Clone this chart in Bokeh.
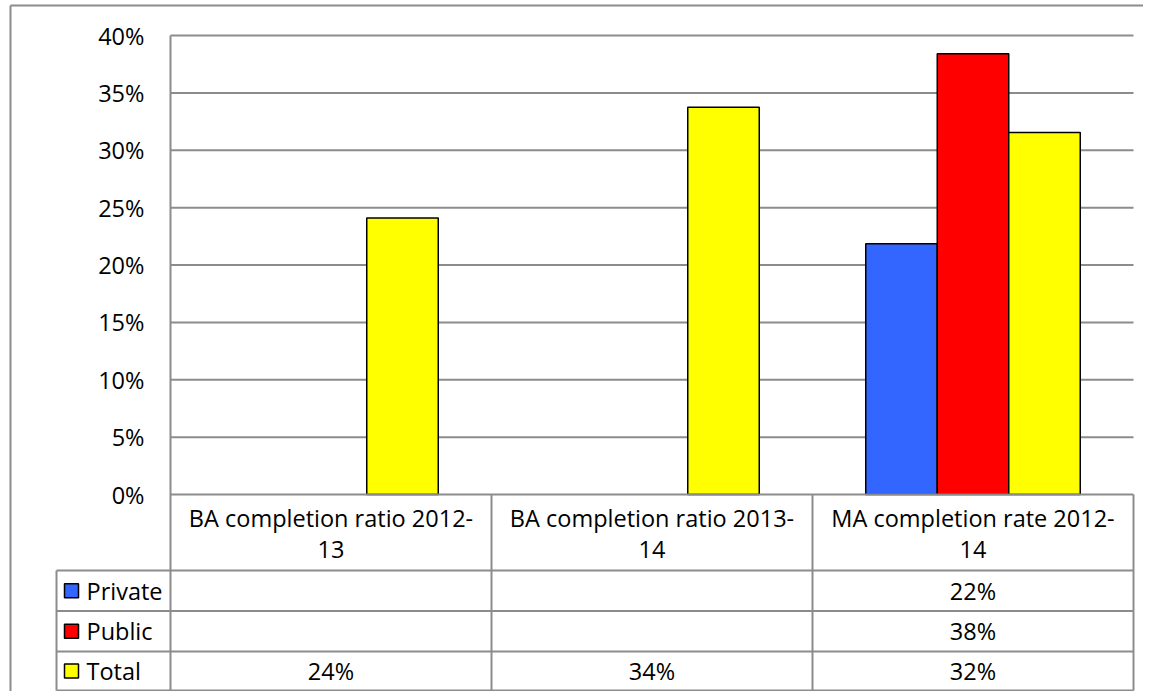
import numpy as np
from bokeh.plotting import figure
from bokeh.models import Range1d, LinearAxis, FixedTicker, NumeralTickFormatter
from bokeh.core.properties import value
from bokeh.embed import file_html
from bokeh.resources import INLINE

# ---------------- data ----------------
categories = ["BA completion ratio 2012-13", "BA completion ratio 2013-14", "MA completion rate 2012-14"]
series_names = ["Private", "Public", "Total"]
private = [None, None, 0.2185]
public = [None, None, 0.384]
total = [0.241, 0.3375, 0.3155]
y_ticks = [0.0, 0.05, 0.10, 0.15, 0.20, 0.25, 0.30, 0.35, 0.40]
series_colors = ["#3366FF", "#FF0000", "#FFFF00"]

# ---------------- layout (px, relative to the picture) ----------------
W, H = 1143, 691
ORIGIN = 0        # canvas origin as seen in the picture
X0 = 170.0        # x of category axis start
CAT_PX = 321.0    # width of one category
Y0 = 494.0        # y of 0%
UNIT_PX = 1147.5  # px per 1.0 on value axis
FONT = value("Open Sans")
FS = "23.5px"
GRID = "#8c8c8c"


def xd(sx):
    return (sx - X0) / CAT_PX


def yd(sy):
    return (Y0 - sy) / UNIT_PX


p = figure(width=W, height=H, output_backend="svg", toolbar_location=None,
           x_range=Range1d(xd(ORIGIN), xd(ORIGIN + W)),
           y_range=Range1d(yd(ORIGIN + H), yd(ORIGIN)),
           x_axis_type=None, y_axis_type=None, min_border=0)
p.min_border_left = p.min_border_right = p.min_border_top = p.min_border_bottom = 0
p.outline_line_color = None
p.background_fill_color = "white"

n_cat = len(categories)
ymax = y_ticks[-1]

# value axis drawn at the start of the categories
yaxis = LinearAxis(fixed_location=0, ticker=FixedTicker(ticks=y_ticks),
                   formatter=NumeralTickFormatter(format="0%"),
                   axis_line_color=None, major_tick_line_color=None,
                   minor_tick_line_color=None, major_tick_out=0, major_tick_in=0,
                   minor_tick_out=0, minor_tick_in=0, major_label_standoff=26,
                   major_label_text_font="Open Sans", major_label_text_font_size=FS,
                   major_label_text_color="black")
p.add_layout(yaxis, "left")

# gridlines
gl = [t for t in y_ticks if t > 0]
p.multi_line(xs=[[0, n_cat] for _ in gl], ys=[[t, t] for t in gl], line_color=GRID, line_width=2)

# bars
n = len(series_names)
bar_w = 71.5 / CAT_PX
for i, (vals, col) in enumerate(zip([private, public, total], series_colors)):
    xs = [c + 0.5 + (i - (n - 1) / 2) * bar_w for c, v in enumerate(vals) if v is not None]
    tops = [v for v in vals if v is not None]
    p.vbar(x=xs, top=tops, bottom=0, width=bar_w, fill_color=col,
           line_color="black", line_width=1.5)

# data table
row_px = [570.0, 610.5, 651.0, 690.0]
leg_left = 56.0
tb = yd(row_px[-1])
p.segment(x0=[0], y0=[0], x1=[n_cat], y1=[0], line_color=GRID, line_width=2)
p.segment(x0=[xd(leg_left)] * len(row_px), y0=[yd(r) for r in row_px],
          x1=[n_cat] * len(row_px), y1=[yd(r) for r in row_px], line_color=GRID, line_width=2)
p.segment(x0=[0], y0=[tb], x1=[0], y1=[ymax], line_color=GRID, line_width=2)
p.segment(x0=[xd(leg_left)], y0=[yd(row_px[0])], x1=[xd(leg_left)], y1=[tb], line_color=GRID, line_width=2)
p.segment(x0=list(range(1, n_cat + 1)), y0=[tb] * n_cat, x1=list(range(1, n_cat + 1)),
          y1=[0] * n_cat, line_color=GRID, line_width=2)

# header labels (wrapped after the hyphen)
wrapped = [c.replace("-", "-\n") for c in categories]
p.text(x=[c + 0.5 for c in range(n_cat)], y=[yd((Y0 + row_px[0]) / 2 + 1)] * n_cat, text=wrapped,
       text_font=FONT, text_font_size=FS, text_align="center", text_baseline="middle",
       text_line_height=0.94, text_color="black")

# rows: legend key + name + values
row_centers = [(row_px[k] + row_px[k + 1]) / 2 for k in range(len(row_px) - 1)]
for k, (name, vals, col) in enumerate(zip(series_names, [private, public, total], series_colors)):
    yc = yd(row_centers[k])
    p.rect(x=[xd(71)], y=[yc], width=14, height=14, width_units="screen", height_units="screen",
           fill_color=col, line_color="black", line_width=1.5)
    p.text(x=[xd(86)], y=[yc], text=[name], text_font=FONT, text_font_size=FS,
           text_align="left", text_baseline="middle", text_color="black")
    xs = [c + 0.5 for c, v in enumerate(vals) if v is not None]
    labels = [f"{round(v * 100)}%" for v in vals if v is not None]
    p.text(x=xs, y=[yc] * len(xs), text=labels, text_font=FONT, text_font_size=FS,
           text_align="center", text_baseline="middle", text_color="black")

# outer chart-area border (left and top)
p.segment(x0=[xd(10)], y0=[yd(ORIGIN + H)], x1=[xd(10)], y1=[yd(5)], line_color=GRID, line_width=2)
p.segment(x0=[xd(10)], y0=[yd(5)], x1=[xd(ORIGIN + W)], y1=[yd(5)], line_color=GRID, line_width=2)

open("out.html", "w").write(file_html(p, INLINE))
